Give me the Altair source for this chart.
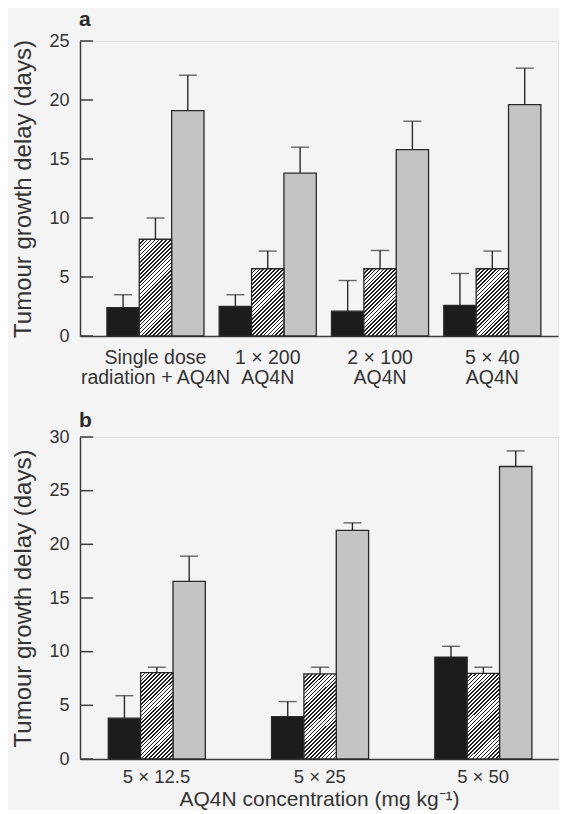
import altair as alt
import pandas as pd

# ---------------- data ----------------
series = ["AQ4N alone", "Radiation alone", "Radiation + AQ4N"]

groups_a = ["Single dose\nradiation + AQ4N", "1 × 200\nAQ4N", "2 × 100\nAQ4N", "5 × 40\nAQ4N"]
a_black = [2.4, 2.5, 2.1, 2.6]
a_black_err = [3.5, 3.5, 4.7, 5.3]
a_hatched = [8.2, 5.7, 5.7, 5.7]
a_hatched_err = [10.0, 7.2, 7.25, 7.2]
a_gray = [19.1, 13.8, 15.8, 19.6]
a_gray_err = [22.1, 16.0, 18.2, 22.7]

groups_b = ["5 × 12.5", "5 × 25", "5 × 50"]
b_black = [3.8, 3.95, 9.5]
b_black_err = [5.9, 5.35, 10.5]
b_hatched = [8.05, 7.93, 7.98]
b_hatched_err = [8.55, 8.55, 8.55]
b_gray = [16.55, 21.3, 27.25]
b_gray_err = [18.9, 22.0, 28.7]

ticks_a = [0, 5, 10, 15, 20, 25]
ticks_b = [0, 5, 10, 15, 20, 25, 30]


def frame(groups, vals, errs):
    rows = []
    for s, v, e in zip(series, vals, errs):
        for g, vv, ee in zip(groups, v, e):
            rows.append({"group": g, "series": s, "value": vv, "err": ee})
    return pd.DataFrame(rows)


df_a = frame(groups_a, [a_black, a_hatched, a_gray], [a_black_err, a_hatched_err, a_gray_err])
df_b = frame(groups_b, [b_black, b_hatched, b_gray], [b_black_err, b_hatched_err, b_gray_err])

# ---------------- style ----------------
FONT = "Liberation Sans"
INK = "#2a2a2a"
AXIS = "#3c3c3c"
TEXT = "#333333"
BG = "#f4f4f4"
HATCH_DEPTH = 10  # days of hatch block drawn down from each bar top (clipped at 0)
TICK_LEN = 13     # inward tick length in px


def hatch_gradient(w, h, period=3.9, frac=0.42):
    k = (w + h) / (w * w + h * h)
    n = (w + h) / period
    stops = []
    i = 0
    while i / n < 1:
        s = i / n
        m = min((i + frac) / n, 1)
        e = min((i + 1) / n, 1)
        stops += [
            alt.GradientStop(offset=s, color="#1e1e1e"),
            alt.GradientStop(offset=m, color="#1e1e1e"),
            alt.GradientStop(offset=m, color="#ffffff"),
            alt.GradientStop(offset=e, color="#ffffff"),
        ]
        i += 1
    return alt.LinearGradient(gradient="linear", stops=stops, x1=0, y1=0, x2=k * w, y2=k * h)


def panel(df, groups, ymax, ticks, height, width, pin, pout, align, letter, xtitle,
          px_per_day, xlab_size, xlab_pad, title_offset):
    n_groups = len(groups)
    step = width / (n_groups - pin + 2 * pout)
    barw = step * (1 - pin) / 3
    grad = hatch_gradient(barw, HATCH_DEPTH * px_per_day)

    xaxis = alt.Axis(
        title=xtitle,
        ticks=False,
        labelAngle=0,
        labelFontSize=xlab_size,
        labelPadding=xlab_pad,
        labelLineHeight=20,
        labelExpr="split(datum.label, '\\n')",
        labelColor=TEXT,
        domainColor=AXIS,
        domainWidth=1.5,
        titleFontSize=21,
        titleFontWeight="normal",
        titleColor=TEXT,
        titlePadding=3,
    )
    yaxis = alt.Axis(
        values=ticks,
        title="Tumour growth delay (days)",
        ticks=False,
        tickSize=0,
        grid=False,
        domainColor=AXIS,
        domainWidth=1.5,
        labelFontSize=18,
        labelPadding=11,
        labelColor=TEXT,
        titleFontSize=24,
        titleFontWeight="normal",
        titleColor=TEXT,
        titlePadding=13,
    )
    yscale = alt.Scale(domain=[0, ymax], nice=False, zero=True)
    base = alt.Chart(df).encode(
        x=alt.X("group:N", sort=groups, axis=xaxis,
                scale=alt.Scale(paddingInner=pin, paddingOuter=pout, align=align)),
        xOffset=alt.XOffset("series:N", sort=series,
                            scale=alt.Scale(paddingInner=0, paddingOuter=0)),
    )

    solid = base.transform_filter(
        alt.FieldOneOfPredicate(field="series", oneOf=[series[0], series[2]])
    ).mark_bar(stroke=INK, strokeWidth=1.3).encode(
        y=alt.Y("value:Q", scale=yscale, axis=yaxis),
        fill=alt.Fill("series:N", legend=None,
                      scale=alt.Scale(domain=series, range=["#1c1c1c", "#ffffff", "#c4c4c4"])),
    )
    hatch = base.transform_filter(alt.datum.series == series[1]).transform_calculate(
        low=f"datum.value - {HATCH_DEPTH}"
    ).mark_bar(fill=grad, clip=True, strokeWidth=0).encode(
        y=alt.Y("value:Q", scale=yscale, axis=yaxis), y2="low:Q"
    )
    outline = base.transform_filter(alt.datum.series == series[1]).mark_bar(
        fill="transparent", stroke=INK, strokeWidth=1.3
    ).encode(y=alt.Y("value:Q", scale=yscale, axis=yaxis))
    rule = base.mark_rule(color=INK, strokeWidth=1.4).encode(
        y=alt.Y("value:Q", scale=yscale, axis=yaxis), y2="err:Q"
    )
    cap = base.mark_tick(color=INK, thickness=1.4, size=18).encode(
        y=alt.Y("err:Q", scale=yscale, axis=yaxis)
    )
    inward = alt.Chart(pd.DataFrame({"value": ticks})).mark_rule(
        color=AXIS, strokeWidth=1.5
    ).encode(
        y=alt.Y("value:Q", scale=yscale, axis=yaxis),
        x=alt.value(0),
        x2=alt.value(TICK_LEN),
    )
    return alt.layer(inward, solid, hatch, outline, rule, cap).properties(
        width=width,
        height=height,
        title=alt.TitleParams(letter, anchor="start", frame="group", fontSize=21,
                              fontWeight="bold", color="#2a2a2a", offset=title_offset, dx=-1),
    )


W = 478
pa = panel(df_a, groups_a, 25, ticks_a, 295, W, 0.1354, 0.196, 0.611, "a", None,
           295 / 25, 19.5, 12, 2)
pb = panel(df_b, groups_b, 30, ticks_b, 322, W, 0.4085, 0.168, 0.515, "b",
           "AQ4N concentration (mg kg⁻¹)", 322 / 30, 18.5, 8, -3)

chart = alt.vconcat(pa, pb, spacing=22).properties(
    padding={"left": 3, "top": 0, "right": 0, "bottom": 0}, background=BG
).configure_view(stroke="transparent", strokeWidth=0).configure(font=FONT)

chart.save("out.html", embed_options={"renderer": "svg", "actions": False})
